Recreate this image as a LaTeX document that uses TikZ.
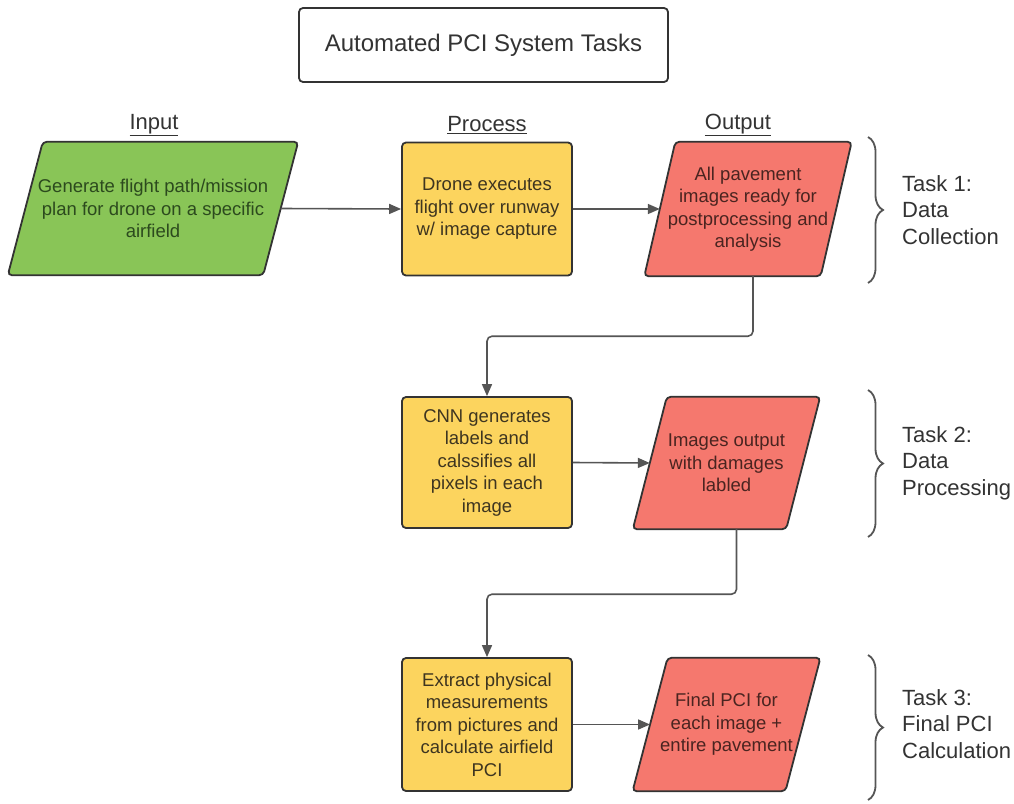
\documentclass[tikz,border=0pt]{standalone}
\usepackage{fontspec}
\setmainfont{Liberation Sans}
\usetikzlibrary{arrows.meta,backgrounds,decorations.pathreplacing,calc}

\definecolor{edgec}{HTML}{333333}
\definecolor{linec}{HTML}{555555}
\definecolor{inputfill}{HTML}{89C557}
\definecolor{procfill}{HTML}{FCD45E}
\definecolor{outfill}{HTML}{F5786E}
\definecolor{inputtxt}{HTML}{2C4A1E}
\definecolor{proctxt}{HTML}{3E3520}
\definecolor{outtxt}{HTML}{4A2420}

\tikzset{
  shapeline/.style={draw=edgec, line width=1.8pt, rounded corners=4pt},
  boxtext/.style={align=center, inner sep=0pt,
    font=\fontsize{18.5}{22.5}\selectfont},
  procbox/.style={boxtext, shapeline, fill=procfill, text=proctxt,
    minimum width=170pt, minimum height=133pt},
  slantbody/.style={boxtext, draw=none, minimum height=133pt},
  heading/.style={font=\fontsize{22}{26}\selectfont, text=edgec},
  tasklabel/.style={font=\fontsize{22}{26.5}\selectfont, text=edgec,
    align=left, anchor=west, inner sep=0pt},
  conn/.style={draw=linec, line width=1.6pt,
    -{Triangle[length=12pt,width=10pt]}},
  taskbrace/.style={draw=linec, line width=1.8pt,
    decorate, decoration={brace, amplitude=15pt}}
}

% parallelogram drawn behind a text node: name, half slant, fill colour
\newcommand\slantbox[3]{%
  \begin{scope}[on background layer]
    \filldraw[shapeline, fill=#3]
      ([xshift=#2]#1.north west) -- ([xshift=#2]#1.north east)
      -- ([xshift=-#2]#1.south east) -- ([xshift=-#2]#1.south west) -- cycle;
  \end{scope}}

\begin{document}
\begin{tikzpicture}[x=1pt, y=-1pt]
  \begin{scope}[on background layer]
    \fill[white] (0,0) rectangle (1014,803);
  \end{scope}
  \useasboundingbox (0,0) rectangle (1014,803);

  % title
  \node[shapeline, fill=white, minimum width=369pt, minimum height=74pt,
        font=\fontsize{24}{28}\selectfont, text=edgec] (title) at (483.5,45)
        {Automated PCI System Tasks};

  % column headings
  \node[heading] (hin)   at (154,125) {\underline{Input}};
  \node[heading] (hproc) at (487,125) {\underline{Process}};
  \node[heading] (hout)  at (738,125) {\underline{Output}};

  % task 1
  \node[slantbody, minimum width=255pt, text=inputtxt] (gen) at (153,208.5)
    {Generate flight path/mission\\plan for drone on a specific\\airfield};
  \slantbox{gen}{17.5pt}{inputfill}
  \node[procbox] (fly) at (487,209)
    {Drone executes\\flight over runway\\w/ image capture};
  \node[slantbody, minimum width=176pt, minimum height=134pt, text=outtxt] (imgs) at (748,209)
    {All pavement\\images ready for\\postprocessing and\\analysis};
  \slantbox{imgs}{15.5pt}{outfill}

  % task 2
  \node[procbox, minimum height=131pt] (cnn) at (487,462.5)
    {CNN generates\\labels and\\calssifies all\\pixels in each\\image};
  \node[slantbody, minimum width=153pt, minimum height=132pt, text=outtxt] (dmg) at (726.5,463)
    {Images output\\with damages\\labled};
  \slantbox{dmg}{17pt}{outfill}

  % task 3
  \node[procbox] (meas) at (487,724.5)
    {Extract physical\\measurements\\from pictures and\\calculate airfield\\PCI};
  \node[slantbody, minimum width=152.5pt, text=outtxt] (pci) at (726.5,724.5)
    {Final PCI for\\each image +\\entire pavement};
  \slantbox{pci}{17.5pt}{outfill}

  % connectors
  \draw[conn] (gen.east) -- (fly.west);
  \draw[conn] (fly.east) -- (imgs.west);
  \draw[conn, rounded corners=5pt] ([xshift=5pt]imgs.south) -- ++(0,60) -| (cnn.north);
  \draw[conn] (cnn.east) -- (dmg.west);
  \draw[conn, rounded corners=5pt] ([xshift=10pt]dmg.south) -- ++(0,65) -| (meas.north);
  \draw[conn] (meas.east) -- (pci.west);

  % task braces and labels
  \coordinate (b1t) at (868,137);  \coordinate (b1b) at (868,283);
  \coordinate (b2t) at (868,390);  \coordinate (b2b) at (868,537);
  \coordinate (b3t) at (868,655);  \coordinate (b3b) at (868,800);
  \draw[taskbrace] (b1t) -- (b1b);
  \draw[taskbrace] (b2t) -- (b2b);
  \draw[taskbrace] (b3t) -- (b3b);
  \node[tasklabel] (t1) at (902,210) {Task 1:\\Data\\Collection};
  \node[tasklabel] (t2) at (902,463) {Task 2:\\Data\\Processing};
  \node[tasklabel] (t3) at (902,724) {Task 3:\\Final PCI\\Calculation};
\end{tikzpicture}
\end{document}
